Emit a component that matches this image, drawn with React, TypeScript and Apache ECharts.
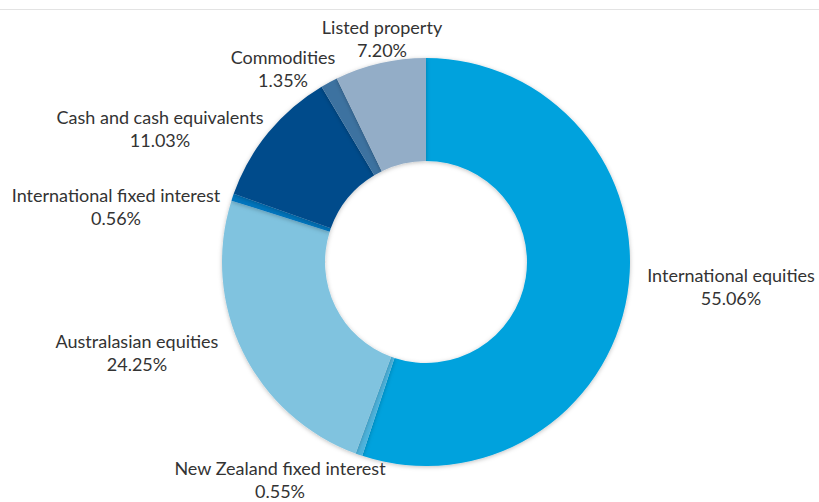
import React, { useEffect, useRef } from "react";
import * as echarts from "echarts";

const categories = [
  "International equities",
  "New Zealand fixed interest",
  "Australasian equities",
  "International fixed interest",
  "Cash and cash equivalents",
  "Commodities",
  "Listed property",
];
const values = [55.06, 0.55, 24.25, 0.56, 11.03, 1.35, 7.2];
const colors = ["#00A2DD", "#4DB3DC", "#80C3DF", "#0074BD", "#004B8B", "#3E72A0", "#93ADC7"];
// label centre positions (x, y of the two-line block centre)
const labelPos = [
  [731, 286],
  [280, 479],
  [137, 352],
  [116, 206],
  [160, 128],
  [283, 68],
  [382, 38],
];

export default function App() {
  const ref = useRef<HTMLDivElement>(null);
  useEffect(() => {
    const chart = echarts.init(ref.current!, null, { renderer: "svg" });
    chart.setOption({
      animation: false,
      backgroundColor: "#ffffff",
      graphic: [
        {
          type: "line",
          shape: { x1: 0, y1: 9.5, x2: 819, y2: 9.5 },
          style: { stroke: "#e3e3e3", lineWidth: 1 },
        },
      ],
      series: [
        {
          type: "pie",
          center: [426, 262],
          radius: [101, 204],
          startAngle: 90,
          clockwise: true,
          data: categories.map((name, i) => ({
            name,
            value: values[i],
            itemStyle: { color: colors[i] },
          })),
          itemStyle: {
            shadowBlur: 4,
            shadowColor: "rgba(0,0,0,0.25)",
            shadowOffsetX: 0,
            shadowOffsetY: 1,
          },
          emphasis: { disabled: true },
          label: {
            show: true,
            position: "outside",
            formatter: (p: any) => `${p.name}\n${p.value.toFixed(2)}%`,
            color: "#333333",
            fontFamily: "Lato",
            fontSize: 18,
            lineHeight: 23,
            align: "center",
            overflow: "none",
            width: 400,
          },
          labelLine: { show: false },
          labelLayout: (params: any) => {
            const pos = labelPos[params.dataIndex];
            return {
              x: pos[0],
              y: pos[1],
              align: "center",
              verticalAlign: "middle",
            };
          },
        },
      ],
    });
    return () => chart.dispose();
  }, []);
  return (
    <div
      ref={ref}
      style={{ position: "fixed", left: 0, top: 0, width: 819, height: 502 }}
    />
  );
}
